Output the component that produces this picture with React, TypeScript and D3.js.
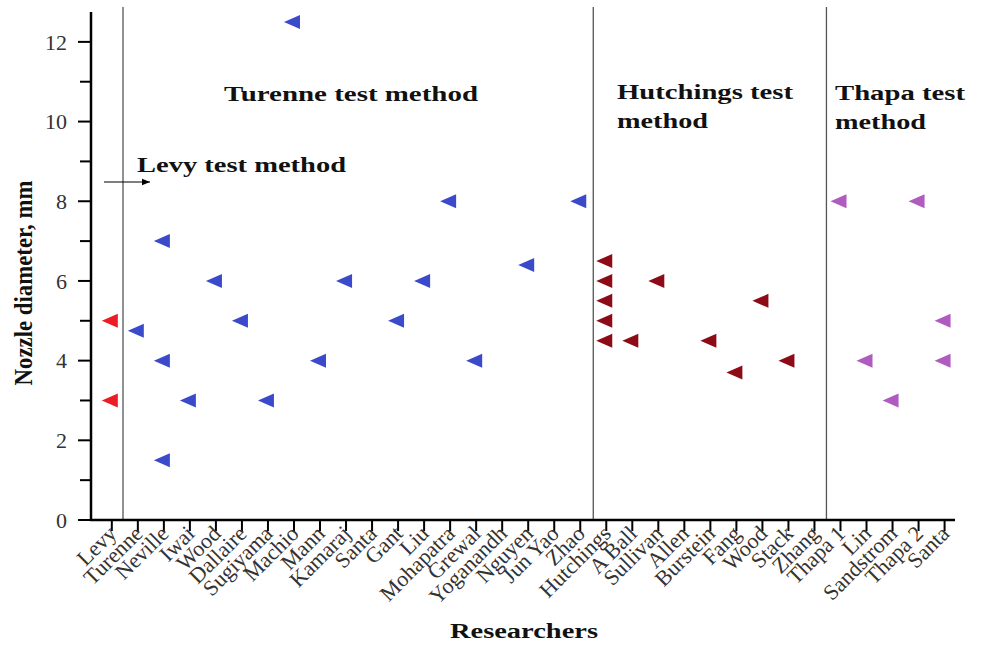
import React from "react";
import * as d3 from "d3";

const researchers = [
  "Levy", "Turenne", "Neville", "Iwai", "Wood", "Dallaire", "Sugiyama", "Machio",
  "Mann", "Kamaraj", "Santa", "Gant", "Liu", "Mohapatra", "Grewal", "Yoganandh",
  "Nguyen", "Jun Yao", "Zhao", "Hutchings", "A Ball", "Sullivan", "Allen", "Burstein",
  "Fang", "Wood", "Stack", "Zhang", "Thapa 1", "Lin", "Sandstrom", "Thapa 2", "Santa",
];

// [researcher index, nozzle diameter mm]
const levyPoints: [number, number][] = [[0, 5], [0, 3]];
const turennePoints: [number, number][] = [
  [1, 4.75], [2, 7], [2, 4], [2, 1.5], [3, 3], [4, 6], [5, 5], [6, 3], [7, 12.5],
  [8, 4], [9, 6], [11, 5], [12, 6], [13, 8], [14, 4], [16, 6.4], [18, 8],
];
const hutchingsPoints: [number, number][] = [
  [19, 6.5], [19, 6], [19, 5.5], [19, 5], [19, 4.5], [20, 4.5], [21, 6], [23, 4.5],
  [24, 3.7], [25, 5.5], [26, 4],
];
const thapaPoints: [number, number][] = [
  [28, 8], [29, 4], [30, 3], [31, 8], [32, 5], [32, 4],
];
const yMajorTicks = [0, 2, 4, 6, 8, 10, 12];
const yMinorTicks = [1, 3, 5, 7, 9, 11];
const dividers = [0.43, 18.5, 27.46];

const series = [
  { pts: levyPoints, color: "#ec1c24" },
  { pts: turennePoints, color: "#3a4acb" },
  { pts: hutchingsPoints, color: "#8c0b16" },
  { pts: thapaPoints, color: "#b05bbf" },
];

const FONT = "'Liberation Serif', 'Times New Roman', serif";

export default function App() {
  const W = 983, H = 646;
  const x = d3.scaleLinear().domain([-0.8, 32.4]).range([91, 955]);
  const y = d3.scaleLinear().domain([0, 12.75]).range([520, 12]);
  const tri = (cx: number, cy: number) =>
    `M${cx - 10},${cy} L${cx + 6},${cy - 7} L${cx + 6},${cy + 7} Z`;

  return (
    <svg width={W} height={H} style={{ position: "absolute", left: 0, top: 0, background: "#fff" }}>
      <defs>
        <marker id="ah" viewBox="0 0 10 10" refX="10" refY="5" markerWidth="7" markerHeight="7" orient="auto">
          <path d="M0,1 L10,5 L0,9 Z" fill="#000" />
        </marker>
      </defs>
      <rect width={W} height={H} fill="#fff" />
      {/* dividers */}
      {dividers.map((d, i) => (
        <line key={i} x1={x(d)} x2={x(d)} y1={7} y2={y(0)} stroke="#555" strokeWidth={1.3} />
      ))}
      {/* y axis */}
      <line x1={91} x2={91} y1={12} y2={y(0) + 1} stroke="#000" strokeWidth={2.5} />
      {yMajorTicks.map((t) => (
        <g key={"M" + t}>
          <line x1={78} x2={91} y1={y(t)} y2={y(t)} stroke="#000" strokeWidth={2} />
          <text x={67} y={y(t)} dy="0.35em" textAnchor="end" fontFamily={FONT} fontSize={22} fill="#333">
            {t}
          </text>
        </g>
      ))}
      {yMinorTicks.map((t) => (
        <line key={"m" + t} x1={80} x2={91} y1={y(t)} y2={y(t)} stroke="#000" strokeWidth={2} />
      ))}
      {/* x axis */}
      <line x1={90} x2={955} y1={y(0)} y2={y(0)} stroke="#000" strokeWidth={2.5} />
      {researchers.map((r, i) => (
        <g key={"x" + i}>
          <line x1={x(i)} x2={x(i)} y1={y(0)} y2={y(0) + 11} stroke="#000" strokeWidth={2} />
          <text
            transform={`translate(${x(i) + 6},${y(0) + 15}) rotate(-45)`}
            textAnchor="end"
            fontFamily={FONT}
            fontSize={22}
            fill="#333"
          >
            {r}
          </text>
        </g>
      ))}
      {/* points */}
      {series.map((s, si) =>
        s.pts.map(([i, v], k) => (
          <path key={si + "-" + k} d={tri(x(i), y(v))} fill={s.color} />
        ))
      )}
      {/* annotations */}
      <g fontFamily={FONT} fontWeight="bold" fontSize={20} fill="#111">
        <text x={224} y={101} textLength={254} lengthAdjust="spacingAndGlyphs">Turenne test method</text>
        <text x={137} y={172} textLength={209} lengthAdjust="spacingAndGlyphs">Levy test method</text>
        <text x={617} y={99} textLength={176} lengthAdjust="spacingAndGlyphs">Hutchings test</text>
        <text x={617} y={128} textLength={91} lengthAdjust="spacingAndGlyphs">method</text>
        <text x={835} y={100} textLength={130} lengthAdjust="spacingAndGlyphs">Thapa test</text>
        <text x={835} y={129} textLength={91} lengthAdjust="spacingAndGlyphs">method</text>
      </g>
      <line x1={104} x2={150} y1={182} y2={182} stroke="#000" strokeWidth={1.2} markerEnd="url(#ah)" />
      {/* axis titles */}
      <text
        transform={`translate(32,283) rotate(-90)`}
        textAnchor="middle"
        fontFamily={FONT}
        fontWeight="bold"
        fontSize={26}
        fill="#111"
        textLength={205}
        lengthAdjust="spacingAndGlyphs"
      >
        Nozzle diameter, mm
      </text>
      <text x={450} y={638} fontFamily={FONT} fontWeight="bold" fontSize={20} fill="#111" textLength={148} lengthAdjust="spacingAndGlyphs">
        Researchers
      </text>
    </svg>
  );
}
